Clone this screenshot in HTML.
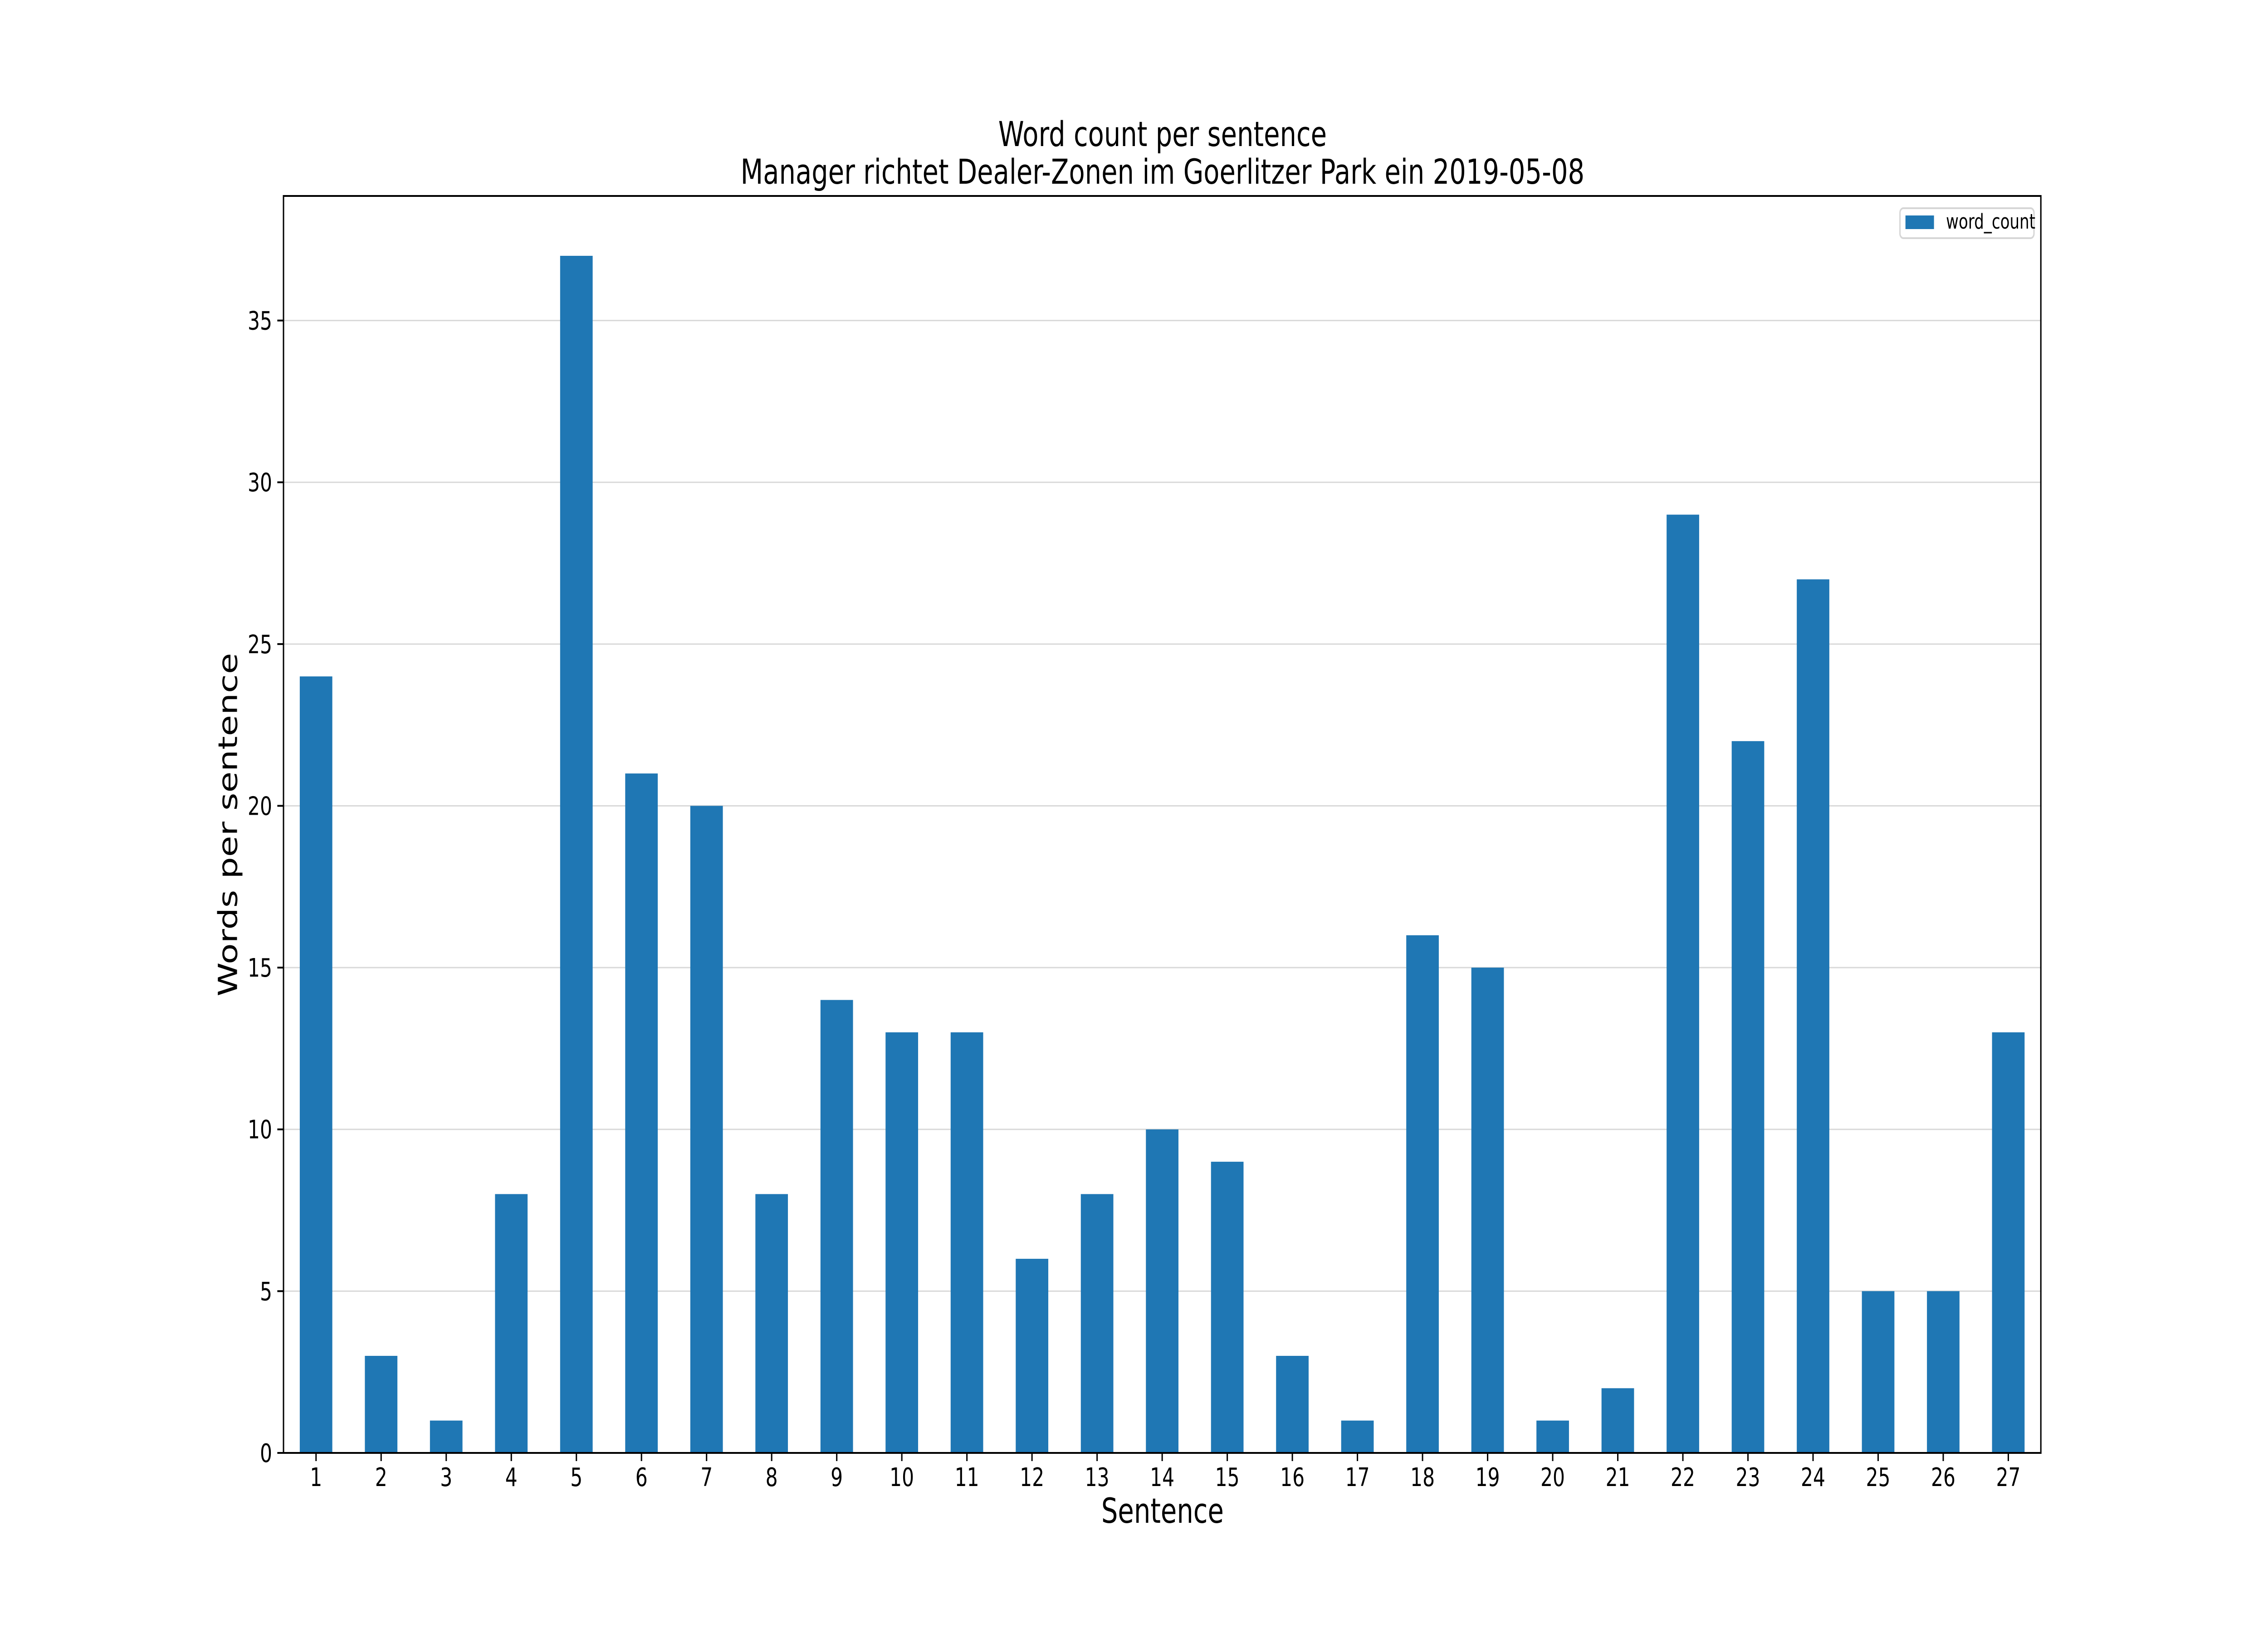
<!DOCTYPE html>
<html><head><meta charset="utf-8"><style>
html,body{margin:0;padding:0;background:#fff;width:100%;height:100%;overflow:hidden}
svg{display:block;width:100vw;height:100vh;font-family:"DejaVu Sans","Liberation Sans",sans-serif}
</style></head><body>
<svg id="chart" viewBox="0 0 6600 3600" preserveAspectRatio="none" xmlns="http://www.w3.org/2000/svg">
<rect width="6600" height="3600" fill="#fff"/>
<text x="3383" y="322" font-size="76" text-anchor="middle">Word count per sentence</text>
<text x="3383" y="405" font-size="76" text-anchor="middle">Manager richtet Dealer-Zonen im Goerlitzer Park ein  2019-05-08</text>
<g id="grid"></g>
<g id="bars"></g>
<g id="axes"></g>
<text x="3383" y="3357" font-size="76" text-anchor="middle">Sentence</text>
<text transform="translate(690,1818) rotate(-90)" font-size="76" text-anchor="middle">Words per sentence</text>
<g>
<rect x="5529" y="459" width="390" height="66" rx="10" fill="#fff" stroke="#d6d6d6" stroke-width="4"/>
<rect x="5545" y="475" width="83" height="30" fill="#1f77b4"/>
<text x="5663" y="504" font-size="45">word_count</text>
</g>
</svg>
<script>
const categories = ["1","2","3","4","5","6","7","8","9","10","11","12","13","14","15","16","17","18","19","20","21","22","23","24","25","26","27"];
const wordCounts = [24,3,1,8,37,21,20,8,14,13,13,6,8,10,9,3,1,16,15,1,2,29,22,27,5,5,13];
const yTicks = [0,5,10,15,20,25,30,35];

const NS = "http://www.w3.org/2000/svg";
const L = 825, R = 5939, T = 432, B = 3203;
const yMax = Math.max(...wordCounts) * 1.05;
const n = categories.length;
const step = (R - L) / n;
const xPos = i => L + step * (i + 0.5);
const yPos = v => B - (v / yMax) * (B - T);
function mk(tag, attrs, parent) {
  const e = document.createElementNS(NS, tag);
  for (const k in attrs) e.setAttribute(k, attrs[k]);
  parent.appendChild(e);
  return e;
}
const grid = document.getElementById('grid');
const bars = document.getElementById('bars');
const axes = document.getElementById('axes');

yTicks.forEach(t => {
  const y = yPos(t);
  const g = mk('line', {x1: L, x2: R, y1: y, y2: y, stroke: '#d9d9d9', 'stroke-width': 3}, grid);
  
  
  const tk = mk('line', {x1: L - 18, x2: L, y1: y, y2: y, stroke: '#000', 'stroke-width': 4}, axes);
  
  
  const lb = mk('text', {x: L - 33, y: y + 20, 'font-size': 56, 'text-anchor': 'end'}, axes);
  lb.textContent = t;
  
  
});

wordCounts.forEach((v, i) => {
  const w = step * 0.5;
  const r = mk('rect', {x: xPos(i) - w / 2, y: yPos(v), width: w, height: B - yPos(v), fill: '#1f77b4'}, bars);
  
  
  const tk = mk('line', {x1: xPos(i), x2: xPos(i), y1: B, y2: B + 18, stroke: '#000', 'stroke-width': 4}, axes);
  
  
  const lb = mk('text', {x: xPos(i), y: 3276, 'font-size': 56, 'text-anchor': 'middle'}, axes);
  lb.textContent = categories[i];
  
  
});

const frame = mk('rect', {x: L, y: T, width: R - L, height: B - T, fill: 'none', stroke: '#000', 'stroke-width': 4}, axes);


</script>
</body></html>
